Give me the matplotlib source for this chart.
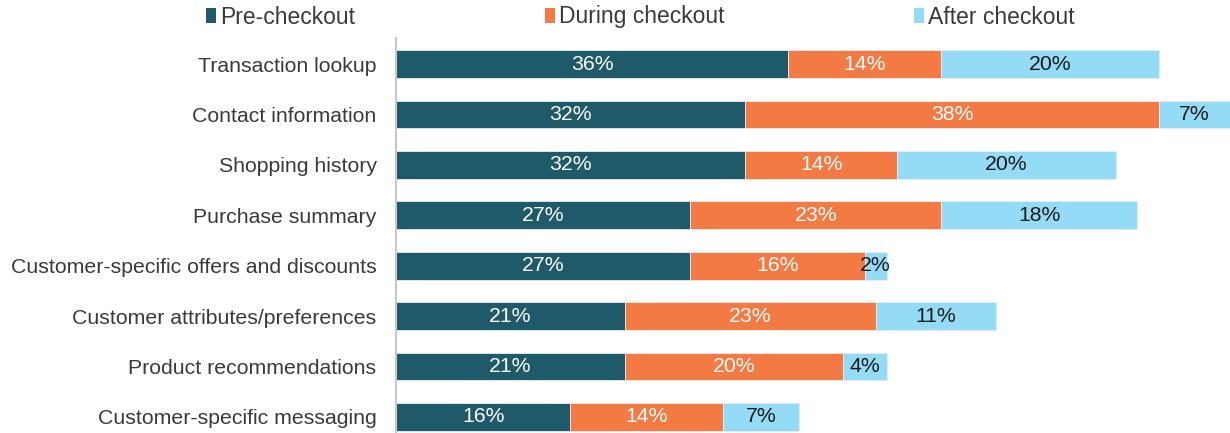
import numpy as np
import matplotlib.pyplot as plt
from matplotlib.patches import Patch

plt.rcParams['font.family'] = ['Liberation Sans', 'DejaVu Sans']

categorias = ['Transaction lookup', 'Contact information', 'Shopping history',
              'Purchase summary', 'Customer-specific offers and discounts',
              'Customer attributes/preferences', 'Product recommendations',
              'Customer-specific messaging']
pre = [36, 32, 32, 27, 27, 21, 21, 16]
durante = [14, 38, 14, 23, 16, 23, 20, 14]
despues = [20, 7, 20, 18, 2, 11, 4, 7]
series = ['Pre-checkout', 'During checkout', 'After checkout']
colores = ['#1f5a6b', '#f47a44', '#94dcf5']
color_texto = ['white', 'white', '#1a1a1a']

fig = plt.figure(figsize=(12.3, 4.33), dpi=100)
ax = fig.add_axes([396 / 1230, 0, 1 - 396 / 1230, 1 - 38 / 433])

y = np.arange(len(categorias))
izq = np.zeros(len(categorias))
for valores, color, ctexto in zip([pre, durante, despues], colores, color_texto):
    barras = ax.barh(y, valores, left=izq, height=0.55, color=color,
                     edgecolor='#e6eef0', linewidth=0.6)
    ax.bar_label(barras, labels=[f'{v}%' for v in valores], label_type='center',
                 color=ctexto, fontsize=15.3)
    izq += np.array(valores)

ax.set_xlim(0, 76.5)
ax.set_ylim(7.32, -0.516)
ax.set_yticks(y)
ax.set_yticklabels(categorias, fontsize=15.3, color='#3a3a3a')
ax.tick_params(axis='y', length=0, pad=14)
ax.set_xticks([])
for lado in ['top', 'right', 'bottom']:
    ax.spines[lado].set_visible(False)
ax.spines['left'].set_color('#c8c8c8')
ax.spines['left'].set_linewidth(1.5)

# leyenda: tres entradas separadas con espaciado desigual
posiciones = [206, 545, 914]
for nombre, color, px in zip(series, colores, posiciones):
    fig.legend(handles=[Patch(facecolor=color, label=nombre)], loc='center left',
               bbox_to_anchor=(px / 1230, 1 - 17 / 433), frameon=False,
               fontsize=16.5, handlelength=0.45, handleheight=0.6, handletextpad=0.15,
               borderaxespad=0, borderpad=0, labelcolor='#3a3a3a')

fig.savefig('out.png', dpi=100)
